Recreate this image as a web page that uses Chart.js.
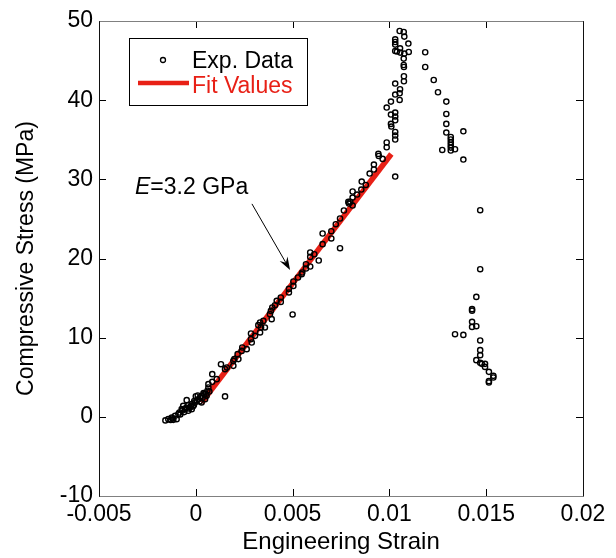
<!DOCTYPE html>
<html><head><meta charset="utf-8">
<script src="https://cdn.jsdelivr.net/npm/chart.js@4.4.1/dist/chart.umd.min.js"></script>
<style>html,body{margin:0;padding:0;background:#fff;}canvas{display:block;}</style>
</head><body>
<canvas id="c" width="616" height="558"></canvas>
<script>
// ---------- data ----------
const expStrain = [
 -0.00157,-0.00142,-0.00124,-0.00116,-0.00107,-0.00099,-0.00090,-0.00080,-0.00073,-0.00065,-0.00060,-0.00056,-0.00047,-0.00039,-0.00039,-0.00030,-0.00021,-0.00021,-0.00010,-0.00004,0.00000,0.00013,0.00020,0.00022,0.00030,0.00030,0.00040,0.00044,0.00048,0.00056,0.00065,0.00065,0.00085,0.00085,0.00108,0.00130,0.00151,0.00160,0.00151,
 -0.00130,-0.00120,-0.00085,-0.00070,-0.00050,-0.00035,-0.00025,-0.00015,-0.00008,0.00005,0.00010,0.00035,0.00052,0.00060,0.00070,
 0.00194,0.00194,0.00199,0.00220,0.00216,0.00237,0.00240,0.00263,0.00285,0.00289,0.00285,0.00306,0.00332,0.00357,0.00337,0.00323,0.00332,0.00349,0.00392,0.00383,0.00388,0.00395,0.00409,0.00418,0.00439,0.00500,0.00439,0.00481,0.00481,0.00504,0.00504,0.00528,0.00547,0.00550,0.00569,0.00569,0.00591,0.00591,0.00591,0.00612,0.00635,0.00655,0.00655,0.00700,0.00700,0.00723,0.00745,0.00745,0.00765,0.00788,0.00791,0.00798,0.00810,0.00810,0.00810,0.00833,0.00855,0.00857,0.00878,0.00898,0.00920,0.00920,0.00943,0.00945,0.00965,0.00986,0.00986,
 0.01030,0.01010,0.01008,0.01030,0.01030,0.01030,0.01030,0.01030,0.01008,0.01030,0.00986,0.01008,0.01053,0.01030,0.01053,0.01055,0.01030,0.01075,0.01075,0.01075,0.01074,0.01074,0.01077,0.01056,0.01039,0.01030,0.01100,0.01055,0.01098,0.01030,0.01030,0.01030,0.01077,0.01074,0.01053,
 0.01185,0.01185,0.01229,0.01251,0.01294,0.01294,0.01294,0.01294,0.01317,0.01317,0.01317,0.01317,0.01317,0.01317,0.01339,0.01273,0.01382,0.01382,
 0.01469,0.01469,0.01449,0.01427,0.01427,0.01427,0.01427,0.01449,0.01339,0.01382,0.01469,0.01469,0.01469,0.01449,0.01469,0.01477,0.01494,0.01494,0.01514,0.01537,0.01537,0.01514,0.01514
];
const expStress = [
 -0.45,-0.29,-0.08,-0.38,0.13,-0.29,0.34,0.30,0.97,1.39,0.60,0.97,2.11,1.48,0.76,1.20,0.97,1.60,1.45,1.82,2.60,2.23,1.95,2.45,2.65,1.82,3.00,2.87,2.23,2.65,4.13,3.71,4.42,5.39,4.76,6.65,6.02,6.24,2.58,
 -0.40,-0.20,0.55,0.80,1.15,1.05,1.35,1.30,2.00,2.10,2.70,2.40,2.90,3.30,3.20,
 6.44,7.07,7.29,7.29,7.92,8.33,8.76,8.55,9.81,9.39,10.53,10.23,10.66,11.29,11.29,11.58,11.92,12.12,12.34,12.97,13.38,13.81,14.10,14.65,14.52,12.93,15.08,15.71,16.16,16.54,17.10,17.60,18.02,18.23,18.74,19.28,18.99,20.20,20.76,20.54,19.75,21.81,23.16,22.53,23.45,24.33,25.05,21.30,26.06,27.15,26.94,27.15,26.69,27.70,28.46,28.08,28.71,29.72,29.29,30.73,31.24,31.87,33.21,32.95,32.58,34.05,34.65,
 30.35,36.67,37.00,35.03,35.53,35.98,37.46,37.93,38.18,38.43,39.07,39.82,40.03,40.71,40.87,41.38,42.10,42.39,43.02,44.19,44.44,45.25,45.88,46.01,46.14,46.21,46.09,46.55,47.15,47.02,47.35,47.69,48.03,48.61,48.74,
 46.05,44.19,42.55,41.00,39.82,38.26,37.00,35.91,35.35,35.03,34.68,34.34,34.01,33.64,33.80,33.71,36.07,32.50,
 26.10,18.65,15.15,13.60,13.41,12.00,11.36,11.45,10.44,10.35,9.65,8.42,7.79,7.16,6.82,6.69,6.69,6.31,5.68,5.18,4.97,4.51,4.34
];
const fitStrain = [0.0003, 0.0101];
const fitStress = [1.8, 33.2];

const xTickValues = [-0.005, 0, 0.005, 0.01, 0.015, 0.02];
const xTickLabels = ['-0.005', '0', '0.005', '0.01', '0.015', '0.02'];
const yTickValues = [-10, 0, 10, 20, 30, 40, 50];
const yTickLabels = ['-10', '0', '10', '20', '30', '40', '50'];
const seriesNames = ['Exp. Data', 'Fit Values'];
const xTitle = 'Engineering Strain';
const yTitle = 'Compressive Stress (MPa)';
const noteSymbol = 'E';
const noteText = '=3.2 GPa';
const noteAt = [-0.00314, 29.0];
const arrowFrom = [0.0029, 26.9];
const arrowTo = [0.00487, 18.55];

// ---------- styles ----------
const FONT = "'Liberation Sans', Arial, sans-serif";
const RED = 'rgb(232,32,22)';

const decor = {
  id: 'decor',
  afterDraw(chart) {
    const {ctx, chartArea: a, scales: {x, y}} = chart;
    ctx.save();
    const L = 7;
    ctx.strokeStyle = '#000'; ctx.lineWidth = 1;
    ctx.beginPath();
    xTickValues.forEach(v => {
      const px = Math.round(x.getPixelForValue(v)) + 0.5;
      ctx.moveTo(px, a.bottom); ctx.lineTo(px, a.bottom - L);
      ctx.moveTo(px, a.top); ctx.lineTo(px, a.top + L);
    });
    yTickValues.forEach(v => {
      const py = Math.round(y.getPixelForValue(v)) + 0.5;
      ctx.moveTo(a.left, py); ctx.lineTo(a.left + L, py);
      ctx.moveTo(a.right, py); ctx.lineTo(a.right - L, py);
    });
    ctx.stroke();
    const l = Math.round(a.left) + 0.5, r = Math.round(a.right) + 0.5, t = Math.round(a.top) + 0.5, b = Math.round(a.bottom) + 0.5;
    ctx.strokeStyle = '#808080';
    ctx.beginPath(); ctx.moveTo(l, t); ctx.lineTo(r, t); ctx.moveTo(l, b); ctx.lineTo(r, b); ctx.stroke();
    ctx.strokeStyle = '#111';
    ctx.beginPath(); ctx.moveTo(l, t); ctx.lineTo(l, b); ctx.moveTo(r, t); ctx.lineTo(r, b); ctx.stroke();

    // legend
    const lx = 129.5, ly = 38.5, lw = 178, lh = 67;
    ctx.fillStyle = '#fff'; ctx.fillRect(lx, ly, lw, lh);
    ctx.strokeStyle = '#000'; ctx.lineWidth = 1; ctx.strokeRect(lx, ly, lw, lh);
    ctx.beginPath(); ctx.arc(163, 60, 2.5, 0, Math.PI * 2); ctx.lineWidth = 1.3; ctx.stroke();
    ctx.strokeStyle = RED; ctx.lineWidth = 4.5;
    ctx.beginPath(); ctx.moveTo(138, 83); ctx.lineTo(189, 83); ctx.stroke();
    ctx.font = '23px ' + FONT; ctx.textBaseline = 'alphabetic'; ctx.textAlign = 'left';
    ctx.fillStyle = '#000'; ctx.fillText(seriesNames[0], 192, 68);
    ctx.fillStyle = RED; ctx.fillText(seriesNames[1], 192, 93);

    // annotation
    const tx = x.getPixelForValue(noteAt[0]), ty = y.getPixelForValue(noteAt[1]);
    ctx.fillStyle = '#000'; ctx.textBaseline = 'middle';
    ctx.font = 'italic 23px ' + FONT; ctx.fillText(noteSymbol, tx, ty);
    const w = ctx.measureText(noteSymbol).width;
    ctx.font = '23px ' + FONT; ctx.fillText(noteText, tx + w, ty);

    const x1 = x.getPixelForValue(arrowFrom[0]), y1 = y.getPixelForValue(arrowFrom[1]);
    const x2 = x.getPixelForValue(arrowTo[0]), y2 = y.getPixelForValue(arrowTo[1]);
    const ang = Math.atan2(y2 - y1, x2 - x1);
    const hl = 13, hw = 4.5;
    ctx.strokeStyle = '#000'; ctx.lineWidth = 1;
    ctx.beginPath(); ctx.moveTo(x1, y1); ctx.lineTo(x2 - Math.cos(ang) * 8, y2 - Math.sin(ang) * 8); ctx.stroke();
    const bx = x2 - Math.cos(ang) * hl, by = y2 - Math.sin(ang) * hl;
    const nx = -Math.sin(ang), ny = Math.cos(ang);
    const mx = x2 - Math.cos(ang) * (hl * 0.65), my = y2 - Math.sin(ang) * (hl * 0.65);
    ctx.fillStyle = '#000';
    ctx.beginPath(); ctx.moveTo(x2, y2); ctx.lineTo(bx + nx * hw, by + ny * hw); ctx.lineTo(mx, my); ctx.lineTo(bx - nx * hw, by - ny * hw); ctx.closePath(); ctx.fill();
    ctx.restore();
  }
};

new Chart(document.getElementById('c'), {
  type: 'scatter',
  data: {
    datasets: [
      {
        label: seriesNames[0],
        data: expStrain.map((v, i) => ({x: v, y: expStress[i]})),
        showLine: false,
        pointRadius: 2.6,
        pointBorderWidth: 1.4,
        pointBorderColor: '#000',
        pointBackgroundColor: 'rgba(0,0,0,0)',
        order: 0
      },
      {
        label: seriesNames[1],
        data: fitStrain.map((v, i) => ({x: v, y: fitStress[i]})),
        showLine: true,
        borderColor: RED,
        borderWidth: 5.5,
        borderCapStyle: 'butt',
        pointRadius: 0,
        order: 1
      }
    ]
  },
  options: {
    responsive: false,
    animation: false,
    devicePixelRatio: 1,
    layout: {padding: {top: 21, right: 33, left: 0, bottom: 0}},
    plugins: {legend: {display: false}, tooltip: {enabled: false}},
    scales: {
      x: {
        type: 'linear', min: -0.005, max: 0.02,
        afterBuildTicks: s => { s.ticks = xTickValues.map(v => ({value: v})); },
        afterFit: s => { s.height = 62; },
        grid: {display: false, drawTicks: false},
        border: {display: false},
        ticks: {
          callback: v => xTickLabels[xTickValues.indexOf(v)],
          color: '#000', padding: 5, maxRotation: 0, autoSkip: false,
          font: {family: FONT, size: 23, lineHeight: 1.2}
        },
        title: {display: true, text: xTitle, color: '#000', padding: {top: 0, bottom: 1},
          font: {family: FONT, size: 24, lineHeight: 1.2}}
      },
      y: {
        type: 'linear', min: -10, max: 50,
        afterBuildTicks: s => { s.ticks = yTickValues.map(v => ({value: v})); },
        afterFit: s => { s.width = 99; },
        grid: {display: false, drawTicks: false},
        border: {display: false},
        ticks: {
          callback: v => yTickLabels[yTickValues.indexOf(v)],
          color: '#000', padding: 6, autoSkip: false,
          font: {family: FONT, size: 23, lineHeight: 1.2}
        },
        title: {display: true, text: yTitle, color: '#000', padding: {top: 13, bottom: 0},
          font: {family: FONT, size: 23, lineHeight: 1.2}}
      }
    }
  },
  plugins: [decor]
});
</script>
</body></html>
